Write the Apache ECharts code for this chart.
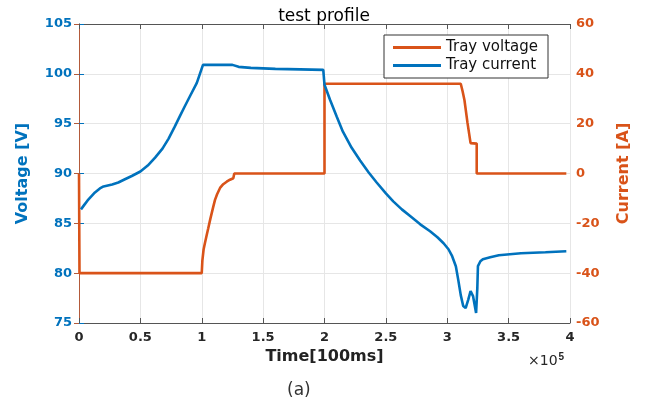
<!DOCTYPE html>
<html>
<head>
<meta charset="utf-8">
<script src="https://cdn.jsdelivr.net/npm/echarts@6/dist/echarts.min.js"></script>
<style>
  html, body { margin: 0; padding: 0; background: #fff; }
  #main { width: 648px; height: 407px; }
</style>
</head>
<body>
<div id="main"></div>
<script>
// time in units of 1e5 x 100ms
const xTicks = [0, 0.5, 1, 1.5, 2, 2.5, 3, 3.5, 4];

// blue trace (left axis, Voltage [V])
const blueTime = [0.016, 0.04, 0.07, 0.10, 0.13, 0.17, 0.20, 0.27, 0.32, 0.37, 0.43, 0.50, 0.56, 0.62,
	0.68, 0.73, 0.78, 0.82, 0.86, 0.91, 0.96, 0.985, 1.01, 1.25, 1.30, 1.40, 1.60, 1.80, 1.99,
	2.00, 2.045, 2.10, 2.15, 2.22, 2.29, 2.36, 2.425, 2.50, 2.56, 2.63, 2.70, 2.78, 2.86, 2.92, 2.97,
	3.01, 3.04, 3.07, 3.09, 3.11, 3.13, 3.15, 3.17, 3.19, 3.21, 3.235, 3.245, 3.25, 3.27, 3.29, 3.35,
	3.42, 3.60, 3.80, 3.97];
const blueValues = [86.4, 86.8, 87.3, 87.7, 88.1, 88.5, 88.7, 88.9, 89.1, 89.4, 89.75, 90.2, 90.8, 91.6,
	92.5, 93.5, 94.7, 95.7, 96.7, 97.9, 99.1, 100.0, 100.9, 100.9, 100.7, 100.6, 100.5, 100.45, 100.4,
	98.9, 97.4, 95.7, 94.2, 92.6, 91.3, 90.1, 89.1, 88.0, 87.2, 86.4, 85.7, 84.9, 84.2, 83.6, 83.0,
	82.4, 81.7, 80.7, 79.3, 77.8, 76.7, 76.5, 77.3, 78.2, 77.7, 76.0, 78.5, 80.7, 81.2, 81.4, 81.6,
	81.8, 82.0, 82.1, 82.2];

// orange trace (right axis, Current [A])
const orangeTime = [0, 0.004, 1.0, 1.005, 1.015, 1.026, 1.04, 1.053, 1.07, 1.094, 1.108, 1.125, 1.149,
	1.175, 1.203, 1.23, 1.257, 1.265, 2.0, 2.0, 3.11, 3.125, 3.14, 3.165, 3.19, 3.24, 3.24, 3.97];
const orangeValues = [0, -40, -40, -35, -30.5, -27.9, -24.8, -22, -18.2, -13.3, -10.6, -8.3, -5.8,
	-4.3, -3.3, -2.5, -1.9, 0, 0, 36, 36, 33, 29.5, 20.3, 12.2, 12, 0, 0];

const BLUE = '#0072BD';
const ORANGE = '#D95319';
const FONT = 'DejaVu Sans';

function zip(xs, ys) {
	let out = [];
	xs.forEach((x, i) => out.push([x, ys[i]]));
	return out;
}

let myChart = echarts.init(document.getElementById('main'));
let option = {
	animation: false,
	textStyle: {fontFamily: FONT},
	title: {
		text: 'test profile',
		left: 'center',
		top: 3,
		textStyle: {fontFamily: FONT, fontSize: 17, fontWeight: 'normal', color: '#000'}
	},
	legend: {
		orient: 'vertical',
		left: 384,
		top: 35,
		padding: [5, 10, 5, 9],
		itemGap: 3,
		itemWidth: 48,
		itemHeight: 3,
		icon: 'rect',
		borderColor: '#333',
		borderWidth: 1,
		backgroundColor: '#fff',
		textStyle: {fontFamily: FONT, fontSize: 15, color: '#111'},
		data: ['Tray voltage', 'Tray current']
	},
	grid: {left: 79, right: 78, top: 24, bottom: 84},
	xAxis: [{
		type: 'value',
		min: 0,
		max: 4,
		interval: 0.5,
		name: 'Time[100ms]',
		nameLocation: 'middle',
		nameGap: 22,
		nameTextStyle: {fontFamily: FONT, fontSize: 16, fontWeight: 'bold', color: '#222'},
		axisLine: {onZero: false, lineStyle: {color: '#555'}},
		axisTick: {inside: true, length: 5, lineStyle: {color: '#555'}},
		axisLabel: {
			margin: 8,
			fontFamily: FONT, fontSize: 13, fontWeight: 'bold', color: '#262626',
			formatter: v => xTicks.indexOf(v) >= 0 ? String(v) : ''
		},
		splitLine: {lineStyle: {color: '#e6e6e6'}}
	}, {
		type: 'value',
		position: 'top',
		min: 0,
		max: 4,
		interval: 0.5,
		axisLine: {onZero: false, lineStyle: {color: '#555'}},
		axisTick: {inside: true, length: 5, lineStyle: {color: '#555'}},
		axisLabel: {show: false},
		splitLine: {show: false}
	}],
	yAxis: [{
		type: 'value',
		min: 75,
		max: 105,
		interval: 5,
		name: 'Voltage [V]',
		nameLocation: 'middle',
		nameGap: 48,
		nameTextStyle: {fontFamily: FONT, fontSize: 16, fontWeight: 'bold', color: BLUE},
		axisLine: {show: true, lineStyle: {color: BLUE}},
		axisTick: {show: true, inside: true, length: 5, lineStyle: {color: BLUE}},
		axisLabel: {margin: 7, fontFamily: FONT, fontSize: 13, fontWeight: 'bold', color: BLUE},
		splitLine: {lineStyle: {color: '#e6e6e6'}}
	}, {
		type: 'value',
		min: -60,
		max: 60,
		interval: 20,
		name: 'Current [A]',
		nameLocation: 'middle',
		nameGap: 46,
		nameTextStyle: {fontFamily: FONT, fontSize: 16, fontWeight: 'bold', color: ORANGE},
		axisLine: {show: true, lineStyle: {color: '#b35a3a'}},
		axisTick: {show: true, inside: true, length: 5, lineStyle: {color: '#b35a3a'}},
		axisLabel: {margin: 6, fontFamily: FONT, fontSize: 13, fontWeight: 'bold', color: ORANGE},
		splitLine: {show: false}
	}],
	series: [{
		name: 'Tray voltage',
		type: 'line',
		yAxisIndex: 1,
		showSymbol: false,
		symbol: 'none',
		data: zip(orangeTime, orangeValues),
		lineStyle: {color: ORANGE, width: 2.6},
		itemStyle: {color: ORANGE}
	}, {
		name: 'Tray current',
		type: 'line',
		yAxisIndex: 0,
		showSymbol: false,
		symbol: 'none',
		data: zip(blueTime, blueValues),
		lineStyle: {color: BLUE, width: 2.6},
		itemStyle: {color: BLUE}
	}],
	graphic: [{
		type: 'text',
		left: 528,
		top: 352,
		style: {
			text: '×10{s|5}',
			font: '14px "DejaVu Sans"',
			fill: '#262626',
			rich: {s: {fontSize: 10, fontWeight: 'bold', verticalAlign: 'top', padding: [0, 0, 8, 1]}}
		}
	}, {
		type: 'text',
		left: 287,
		top: 382,
		style: {text: '(a)', font: '17px "DejaVu Sans"', fill: '#333'}
	}]
};
myChart.setOption(option);
</script>
</body>
</html>
